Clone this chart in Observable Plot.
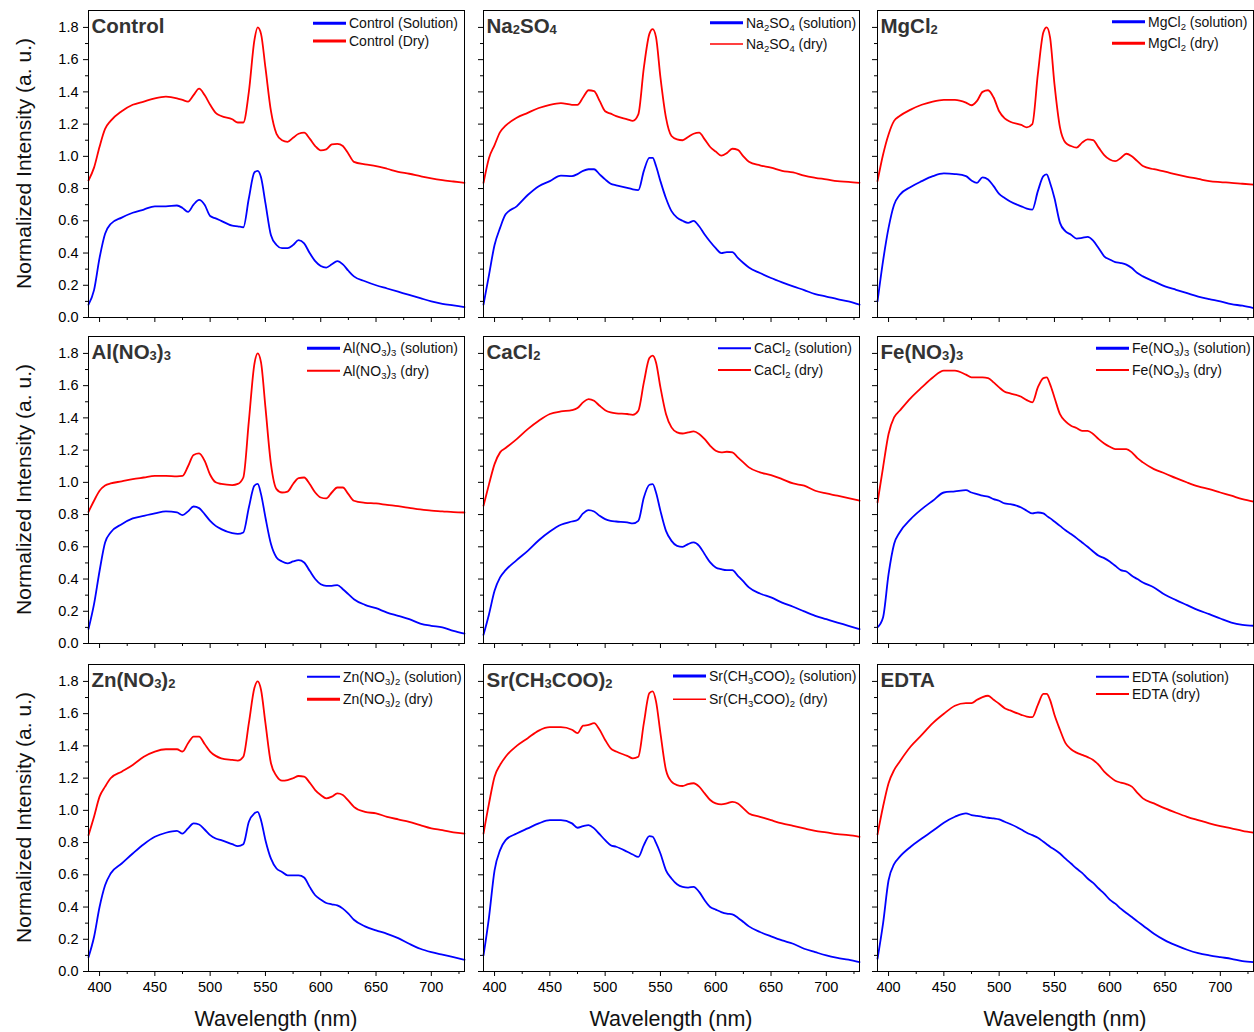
<!DOCTYPE html>
<html>
<head>
<meta charset="utf-8">
<script src="https://cdn.jsdelivr.net/npm/d3@7"></script>
<script src="https://cdn.jsdelivr.net/npm/@observablehq/plot@0.6"></script>
<style>
  html, body { margin: 0; padding: 0; background: #fff; }
  #fig { position: relative; width: 1254px; height: 1032px; background: #fff; overflow: hidden;
         font-family: "Liberation Sans", Arial, sans-serif; }
  #fig svg.plot-panel { position: absolute; }
  #overlay { position: absolute; left: 0; top: 0; pointer-events: none; }
</style>
</head>
<body>
<div id="fig"></div>
<script>
// ---------------- data ----------------
const wavelength = [390,395,400,405,410,420,430,440,450,460,470,475,480,485,490,495,500,505,510,520,525,530,535,540,543,546,550,555,560,565,570,575,580,585,590,595,600,605,610,615,620,625,630,640,650,660,670,680,690,700,710,720,730];

const controlSolution = [0.08,0.17,0.37,0.52,0.58,0.62,0.65,0.67,0.69,0.69,0.695,0.68,0.655,0.70,0.73,0.70,0.63,0.615,0.60,0.57,0.566,0.56,0.74,0.90,0.91,0.87,0.71,0.51,0.45,0.43,0.43,0.45,0.48,0.46,0.40,0.35,0.32,0.31,0.33,0.35,0.33,0.29,0.255,0.225,0.20,0.18,0.16,0.14,0.12,0.10,0.085,0.075,0.065];
const controlDry = [0.85,0.93,1.06,1.17,1.22,1.28,1.32,1.34,1.36,1.37,1.36,1.35,1.34,1.38,1.42,1.38,1.32,1.27,1.25,1.23,1.21,1.21,1.40,1.72,1.80,1.76,1.55,1.28,1.14,1.10,1.09,1.115,1.14,1.147,1.11,1.064,1.037,1.043,1.074,1.078,1.064,1.016,0.966,0.95,0.94,0.923,0.904,0.892,0.877,0.863,0.852,0.844,0.836];

const na2so4Solution = [0.08,0.265,0.45,0.556,0.64,0.69,0.76,0.815,0.846,0.88,0.877,0.89,0.91,0.92,0.92,0.888,0.857,0.83,0.82,0.805,0.795,0.79,0.91,0.99,0.99,0.94,0.846,0.74,0.66,0.62,0.60,0.587,0.60,0.566,0.515,0.47,0.43,0.40,0.406,0.406,0.37,0.338,0.31,0.276,0.245,0.218,0.193,0.17,0.145,0.13,0.114,0.10,0.08];
const na2so4Dry = [0.835,0.99,1.07,1.15,1.19,1.24,1.27,1.30,1.32,1.33,1.32,1.32,1.365,1.41,1.405,1.344,1.28,1.265,1.25,1.23,1.22,1.26,1.55,1.76,1.79,1.74,1.49,1.24,1.126,1.105,1.10,1.12,1.14,1.147,1.105,1.058,1.03,1.005,1.02,1.047,1.04,1.00,0.966,0.944,0.93,0.91,0.90,0.88,0.867,0.857,0.846,0.842,0.836];

const mgcl2Solution = [0.10,0.35,0.556,0.70,0.76,0.81,0.846,0.877,0.894,0.89,0.877,0.85,0.836,0.87,0.856,0.815,0.767,0.742,0.72,0.69,0.676,0.67,0.784,0.877,0.888,0.836,0.742,0.587,0.535,0.514,0.49,0.494,0.50,0.477,0.43,0.38,0.36,0.344,0.338,0.328,0.307,0.276,0.255,0.224,0.193,0.172,0.151,0.13,0.114,0.10,0.083,0.073,0.058];
const mgcl2Dry = [0.846,1.01,1.136,1.22,1.25,1.29,1.32,1.34,1.35,1.35,1.333,1.317,1.344,1.40,1.41,1.365,1.28,1.236,1.215,1.195,1.18,1.20,1.51,1.77,1.80,1.74,1.45,1.18,1.085,1.064,1.054,1.085,1.105,1.10,1.054,1.008,0.98,0.97,0.99,1.016,1.00,0.97,0.94,0.92,0.905,0.888,0.873,0.86,0.846,0.84,0.836,0.83,0.825];

const alno3Solution = [0.09,0.244,0.45,0.627,0.689,0.74,0.776,0.792,0.807,0.82,0.813,0.797,0.82,0.85,0.84,0.803,0.761,0.73,0.71,0.685,0.68,0.689,0.844,0.979,0.99,0.927,0.782,0.617,0.534,0.509,0.497,0.509,0.517,0.503,0.451,0.40,0.368,0.358,0.358,0.362,0.337,0.306,0.275,0.24,0.219,0.192,0.172,0.151,0.124,0.11,0.10,0.079,0.062];
const alno3Dry = [0.817,0.886,0.948,0.98,0.993,1.006,1.02,1.03,1.04,1.04,1.037,1.04,1.10,1.17,1.18,1.134,1.047,1.0,0.99,0.983,0.99,1.03,1.38,1.734,1.80,1.744,1.465,1.113,0.958,0.937,0.943,0.99,1.026,1.03,0.99,0.937,0.906,0.90,0.937,0.968,0.968,0.927,0.886,0.873,0.869,0.86,0.852,0.842,0.832,0.824,0.82,0.815,0.813];

const cacl2Solution = [0.054,0.182,0.327,0.41,0.455,0.517,0.575,0.641,0.695,0.737,0.757,0.766,0.807,0.828,0.819,0.792,0.772,0.761,0.757,0.751,0.745,0.761,0.906,0.985,0.989,0.937,0.823,0.699,0.637,0.606,0.60,0.617,0.627,0.606,0.554,0.503,0.472,0.461,0.455,0.455,0.42,0.385,0.348,0.31,0.286,0.254,0.228,0.199,0.172,0.151,0.13,0.11,0.089];
const cacl2Dry = [0.855,0.989,1.113,1.186,1.213,1.268,1.33,1.382,1.424,1.44,1.448,1.461,1.496,1.517,1.506,1.475,1.448,1.434,1.428,1.424,1.419,1.444,1.62,1.771,1.786,1.744,1.589,1.424,1.341,1.31,1.303,1.31,1.316,1.30,1.268,1.227,1.196,1.186,1.19,1.186,1.155,1.124,1.093,1.062,1.045,1.02,0.993,0.979,0.948,0.931,0.917,0.902,0.886];

const feno3Solution = [0.10,0.161,0.43,0.617,0.689,0.772,0.834,0.886,0.937,0.944,0.952,0.937,0.927,0.917,0.912,0.896,0.886,0.869,0.865,0.844,0.824,0.807,0.813,0.807,0.792,0.778,0.757,0.73,0.703,0.679,0.654,0.627,0.60,0.571,0.544,0.53,0.509,0.482,0.455,0.447,0.42,0.40,0.379,0.348,0.302,0.269,0.238,0.207,0.182,0.155,0.13,0.116,0.11];
const feno3Dry = [0.875,1.092,1.30,1.403,1.444,1.523,1.589,1.651,1.693,1.693,1.668,1.651,1.651,1.651,1.647,1.62,1.589,1.562,1.552,1.531,1.51,1.496,1.589,1.647,1.651,1.61,1.527,1.423,1.378,1.351,1.337,1.32,1.32,1.30,1.268,1.241,1.221,1.206,1.206,1.206,1.186,1.15,1.124,1.082,1.055,1.026,0.999,0.975,0.958,0.937,0.917,0.896,0.881];

const znno3Solution = [0.089,0.214,0.40,0.535,0.608,0.67,0.732,0.79,0.836,0.861,0.873,0.856,0.888,0.919,0.912,0.881,0.846,0.825,0.815,0.79,0.778,0.79,0.929,0.981,0.991,0.939,0.815,0.70,0.639,0.618,0.597,0.597,0.597,0.583,0.525,0.473,0.446,0.425,0.417,0.41,0.39,0.359,0.321,0.28,0.255,0.234,0.207,0.172,0.141,0.12,0.104,0.089,0.073];
const znno3Dry = [0.846,0.96,1.085,1.147,1.199,1.24,1.282,1.333,1.365,1.379,1.379,1.365,1.416,1.458,1.458,1.412,1.365,1.338,1.323,1.313,1.309,1.333,1.541,1.759,1.80,1.748,1.541,1.292,1.213,1.184,1.188,1.199,1.213,1.209,1.172,1.126,1.095,1.074,1.085,1.105,1.095,1.06,1.022,0.991,0.981,0.96,0.944,0.929,0.908,0.888,0.877,0.863,0.856];

const srAcetateSolution = [0.10,0.338,0.628,0.753,0.815,0.856,0.888,0.919,0.939,0.939,0.919,0.892,0.902,0.908,0.888,0.852,0.815,0.784,0.774,0.743,0.726,0.711,0.784,0.84,0.836,0.798,0.732,0.628,0.577,0.541,0.525,0.521,0.525,0.494,0.442,0.40,0.384,0.369,0.359,0.355,0.334,0.307,0.28,0.245,0.218,0.193,0.172,0.141,0.12,0.10,0.085,0.073,0.058];
const srAcetateDry = [0.856,1.043,1.209,1.282,1.333,1.40,1.448,1.495,1.516,1.516,1.50,1.479,1.525,1.53,1.541,1.50,1.437,1.385,1.365,1.338,1.323,1.333,1.541,1.727,1.738,1.676,1.479,1.25,1.178,1.157,1.151,1.163,1.168,1.147,1.105,1.064,1.043,1.037,1.043,1.053,1.043,1.012,0.981,0.96,0.939,0.919,0.904,0.888,0.873,0.863,0.852,0.846,0.836];

const edtaSolution = [0.079,0.297,0.566,0.666,0.711,0.774,0.825,0.873,0.923,0.96,0.981,0.971,0.966,0.96,0.954,0.95,0.944,0.929,0.915,0.881,0.861,0.846,0.83,0.805,0.79,0.774,0.757,0.732,0.70,0.67,0.639,0.612,0.577,0.55,0.515,0.483,0.446,0.421,0.39,0.363,0.338,0.311,0.286,0.234,0.193,0.162,0.135,0.114,0.10,0.089,0.079,0.064,0.058];
const edtaDry = [0.85,1.022,1.168,1.25,1.302,1.396,1.468,1.541,1.599,1.649,1.665,1.665,1.686,1.703,1.711,1.686,1.661,1.634,1.62,1.593,1.582,1.578,1.655,1.723,1.723,1.686,1.593,1.50,1.417,1.379,1.358,1.344,1.33,1.313,1.282,1.24,1.209,1.184,1.172,1.163,1.147,1.109,1.074,1.043,1.012,0.985,0.96,0.939,0.919,0.902,0.888,0.873,0.861];

// panel titles and legend texts ("_n" marks a subscript digit)
const panelTitles = ["Control", "Na_2SO_4", "MgCl_2", "Al(NO_3)_3", "CaCl_2", "Fe(NO_3)_3", "Zn(NO_3)_2", "Sr(CH_3COO)_2", "EDTA"];
const solutionLabels = ["Control (Solution)", "Na_2SO_4 (solution)", "MgCl_2 (solution)", "Al(NO_3)_3 (solution)", "CaCl_2 (solution)", "Fe(NO_3)_3 (solution)", "Zn(NO_3)_2 (solution)", "Sr(CH_3COO)_2 (solution)", "EDTA (solution)"];
const dryLabels = ["Control (Dry)", "Na_2SO_4 (dry)", "MgCl_2 (dry)", "Al(NO_3)_3 (dry)", "CaCl_2 (dry)", "Fe(NO_3)_3 (dry)", "Zn(NO_3)_2 (dry)", "Sr(CH_3COO)_2 (dry)", "EDTA (dry)"];
const solutionSeries = [controlSolution, na2so4Solution, mgcl2Solution, alno3Solution, cacl2Solution, feno3Solution, znno3Solution, srAcetateSolution, edtaSolution];
const drySeries = [controlDry, na2so4Dry, mgcl2Dry, alno3Dry, cacl2Dry, feno3Dry, znno3Dry, srAcetateDry, edtaDry];

const xMajorTicks = [400, 450, 500, 550, 600, 650, 700];
const xMinorTicks = [425, 475, 525, 575, 625, 675, 725];
const yMajorTicks = [0, 0.2, 0.4, 0.6, 0.8, 1.0, 1.2, 1.4, 1.6, 1.8];
const yMinorTicks = [0.1, 0.3, 0.5, 0.7, 0.9, 1.1, 1.3, 1.5, 1.7];
const xLabel = "Wavelength (nm)";
const yLabel = "Normalized Intensity (a. u.)";

// ---------------- layout (not data) ----------------
const colLeft = [88, 483, 877];
const rowTop = [10, 336, 664];
const PW = 376, PH = 307;
const FONT = '"Liberation Sans", Arial, sans-serif';
// legend: line start offset from panel left, row offsets from panel top, line widths
const legendLayout = [
  {dx: 225, y1: 13.3, y2: 31,   w1: 3, w2: 3},
  {dx: 227, y1: 12.7, y2: 34,   w1: 3, w2: 1.5},
  {dx: 235, y1: 11.7, y2: 33.3, w1: 3, w2: 3},
  {dx: 219, y1: 12.3, y2: 34.7, w1: 3, w2: 2},
  {dx: 235, y1: 12.3, y2: 34,   w1: 2, w2: 2},
  {dx: 219, y1: 12.3, y2: 34,   w1: 3, w2: 2},
  {dx: 219, y1: 12.7, y2: 35.3, w1: 2, w2: 3},
  {dx: 190, y1: 12,   y2: 35.3, w1: 3, w2: 1.5},
  {dx: 219, y1: 12.7, y2: 30,   w1: 2, w2: 2}
];

const fig = document.getElementById("fig");
const mL = 45, mR = 2, mT = 2, mB = 30;

panelTitles.forEach((title, i) => {
  const r = Math.floor(i / 3), c = i % 3;
  const table = wavelength.map((w, k) => ({w, sol: solutionSeries[i][k], dry: drySeries[i][k]}));
  const svg = Plot.plot({
    width: PW + mL + mR,
    height: PH + mT + mB,
    marginLeft: mL, marginRight: mR, marginTop: mT, marginBottom: mB,
    x: {domain: [390, 730]},
    y: {domain: [0, 1.905]},
    style: {background: "transparent", overflow: "visible", fontFamily: FONT, fontSize: "14.5px", color: "#000"},
    marks: [
      Plot.axisY(yMajorTicks, {tickSize: 5, tickPadding: 5, label: null, fontSize: 14.5,
        tickFormat: c === 0 ? (d => d.toFixed(1)) : (() => "")}),
      Plot.axisY(yMinorTicks, {tickSize: 3, label: null, tickFormat: () => ""}),
      Plot.axisX(xMajorTicks, {tickSize: 5, tickPadding: 5, label: null, fontSize: 14.5,
        tickFormat: r === 2 ? (d => String(d)) : (() => "")}),
      Plot.axisX(xMinorTicks, {tickSize: 3, label: null, tickFormat: () => ""}),
      Plot.line(table, {x: "w", y: "dry", stroke: "#ff0000", strokeWidth: 1.8, curve: "monotone-x"}),
      Plot.line(table, {x: "w", y: "sol", stroke: "#0000ff", strokeWidth: 1.8, curve: "monotone-x"}),
      Plot.frame({stroke: "#000", strokeWidth: 1})
    ]
  });
  svg.classList.add("plot-panel");
  svg.style.left = (colLeft[c] - mL) + "px";
  svg.style.top = (rowTop[r] - mT) + "px";
  fig.appendChild(svg);
});

// ---------------- overlay text: titles, legends, axis labels ----------------
const ov = d3.select(fig).append("svg").attr("id", "overlay")
  .attr("width", 1254).attr("height", 1032)
  .style("font-family", FONT);

function richText(sel, str, subSize, subShift) {
  const parts = str.split(/(_\d)/);
  let shifted = false;
  parts.forEach(p => {
    if (!p) return;
    if (p.startsWith("_")) {
      sel.append("tspan").attr("font-size", subSize).attr("dy", shifted ? 0 : subShift).text(p.slice(1));
      shifted = true;
    } else {
      sel.append("tspan").attr("dy", shifted ? -subShift : 0).text(p);
      shifted = false;
    }
  });
}

panelTitles.forEach((title, i) => {
  const r = Math.floor(i / 3), c = i % 3;
  const L = colLeft[c], T = rowTop[r];
  const t = ov.append("text").attr("x", L + 3.5).attr("y", T + 23)
    .attr("font-size", 20.5).attr("font-weight", "bold").attr("fill", "#333");
  richText(t, title, 13, 1);

  const lg = legendLayout[i];
  const x1 = L + lg.dx, x2 = x1 + 33;
  [[solutionLabels[i], lg.y1, "#0000ff", lg.w1], [dryLabels[i], lg.y2, "#ff0000", lg.w2]].forEach(([lab, yy, col, lw]) => {
    ov.append("line").attr("x1", x1).attr("x2", x2).attr("y1", T + yy).attr("y2", T + yy)
      .attr("stroke", col).attr("stroke-width", lw);
    const tt = ov.append("text").attr("x", x2 + 3).attr("y", T + yy + 5)
      .attr("font-size", 14).attr("fill", "#111");
    richText(tt, lab, 9.5, 3);
  });
});

rowTop.forEach(T => {
  ov.append("text").attr("transform", `translate(30.5,${T + PH / 2}) rotate(-90)`)
    .attr("text-anchor", "middle").attr("font-size", 21).attr("fill", "#111").text(yLabel);
});
colLeft.forEach(L => {
  ov.append("text").attr("x", L + PW / 2).attr("y", 1026)
    .attr("text-anchor", "middle").attr("font-size", 21.5).attr("fill", "#111").text(xLabel);
});
</script>
</body>
</html>
